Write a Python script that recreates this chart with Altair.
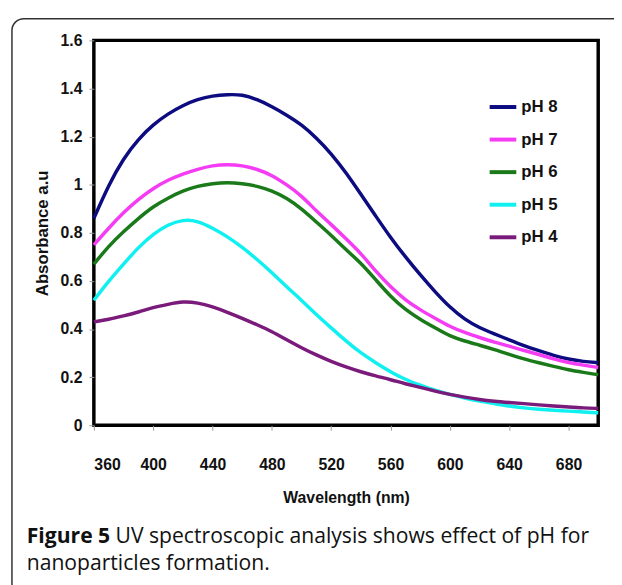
import altair as alt
import pandas as pd

wavelength = list(range(360, 701, 10))

ph8 = [0.86, 1.00, 1.11, 1.19, 1.25, 1.295, 1.33, 1.355, 1.37, 1.375, 1.375, 1.355, 1.325, 1.29, 1.25,
       1.195, 1.13, 1.05, 0.96, 0.87, 0.78, 0.70, 0.625, 0.555, 0.49, 0.44, 0.405, 0.38, 0.355, 0.33,
       0.31, 0.29, 0.275, 0.265, 0.26]
ph7 = [0.75, 0.82, 0.885, 0.94, 0.985, 1.02, 1.045, 1.065, 1.08, 1.085, 1.08, 1.065, 1.04, 1.00, 0.955,
       0.89, 0.835, 0.775, 0.715, 0.64, 0.575, 0.52, 0.48, 0.445, 0.41, 0.385, 0.365, 0.345, 0.33, 0.31,
       0.295, 0.275, 0.26, 0.25, 0.24]
ph6 = [0.67, 0.745, 0.805, 0.86, 0.91, 0.945, 0.975, 0.995, 1.005, 1.01, 1.005, 0.995, 0.975, 0.945, 0.90,
       0.845, 0.79, 0.73, 0.675, 0.605, 0.535, 0.48, 0.44, 0.405, 0.37, 0.35, 0.333, 0.315, 0.295, 0.275,
       0.26, 0.245, 0.23, 0.22, 0.21]
ph5 = [0.52, 0.60, 0.67, 0.74, 0.795, 0.835, 0.855, 0.85, 0.82, 0.785, 0.74, 0.69, 0.635, 0.575, 0.52,
       0.46, 0.405, 0.35, 0.30, 0.26, 0.222, 0.19, 0.167, 0.145, 0.128, 0.113, 0.10, 0.09, 0.08, 0.072,
       0.066, 0.062, 0.059, 0.055, 0.052]
ph4 = [0.43, 0.44, 0.455, 0.47, 0.49, 0.503, 0.515, 0.51, 0.493, 0.47, 0.445, 0.418, 0.39, 0.355, 0.322,
       0.292, 0.265, 0.242, 0.222, 0.205, 0.19, 0.172, 0.158, 0.142, 0.128, 0.117, 0.107, 0.10, 0.095, 0.09,
       0.085, 0.08, 0.076, 0.072, 0.07]

series_names = ["pH 8", "pH 7", "pH 6", "pH 5", "pH 4"]
series_colors = ["#0c0c80", "#f53cf5", "#1a7a1a", "#10f0f0", "#7a1a7a"]
x_ticks = [360, 400, 440, 480, 520, 560, 600, 640, 680]
y_ticks = [0, 0.2, 0.4, 0.6, 0.8, 1, 1.2, 1.4, 1.6]

caption_bold = "Figure 5"
caption_line1 = "UV spectroscopic analysis shows effect of pH for"
caption_line2 = "nanoparticles formation."

rows = []
for name, vals in zip(series_names, [ph8, ph7, ph6, ph5, ph4]):
    for w, v in zip(wavelength, vals):
        rows.append({"Wavelength": w, "Absorbance": v, "Series": name})
df = pd.DataFrame(rows)

AX_FONT = "Liberation Sans Narrow, Arial Narrow, Liberation Sans, Arial, sans-serif"
CAP_FONT = "Open Sans, Noto Sans, sans-serif"

W, H = 511, 390

lines = alt.Chart(df).mark_line(strokeWidth=3.5, interpolate="basis").encode(
    x=alt.X("Wavelength:Q", scale=alt.Scale(domain=[360, 700], nice=False, zero=False),
            axis=alt.Axis(values=x_ticks, title="Wavelength (nm)", grid=False, domain=False,
                          tickColor="#999", tickSize=5, labelPadding=27,
                          labelFont=AX_FONT, labelFontSize=16, labelFontWeight="bold", labelColor="#111",
                          titleFont=AX_FONT, titleFontSize=16, titleFontWeight="bold", titleColor="#111",
                          titlePadding=17)),
    y=alt.Y("Absorbance:Q", scale=alt.Scale(domain=[0, 1.6], nice=False),
            axis=alt.Axis(values=y_ticks, format="~g", title="Absorbance a.u", grid=False, domain=False,
                          tickColor="#999", tickSize=5, labelPadding=7,
                          labelFont=AX_FONT, labelFontSize=16, labelFontWeight="bold", labelColor="#111",
                          titleFont="Liberation Sans, Arial, sans-serif", titleFontSize=17,
                          titleFontWeight="bold", titleColor="#111", titlePadding=9)),
    color=alt.Color("Series:N", sort=series_names,
                    scale=alt.Scale(domain=series_names, range=series_colors),
                    legend=alt.Legend(orient="none", legendX=399, legendY=52, title=None,
                                      symbolType="stroke", symbolStrokeWidth=4, symbolSize=729,
                                      labelFont=AX_FONT, labelFontSize=17, labelFontWeight="bold",
                                      labelColor="#111", labelOffset=3, rowPadding=9)),
    order=alt.Order("Wavelength:Q"),
)

anchor = pd.DataFrame({"k": [0]})

border = alt.Chart(anchor).mark_rect(fill="white", fillOpacity=0, stroke="#333", strokeWidth=1.5,
                                     cornerRadius=12).encode(
    x=alt.value(-83), x2=alt.value(620), y=alt.value(-22), y2=alt.value(620))

CAP_SIZE = 21.4
cap1b = alt.Chart(anchor).mark_text(font=CAP_FONT, fontSize=CAP_SIZE, fontWeight="bold", align="left",
                                    baseline="alphabetic", color="#111").encode(
    x=alt.value(-68), y=alt.value(509), text=alt.value(caption_bold))
cap1 = alt.Chart(anchor).mark_text(font=CAP_FONT, fontSize=CAP_SIZE, align="left",
                                   baseline="alphabetic", color="#111").encode(
    x=alt.value(22), y=alt.value(509), text=alt.value(caption_line1))
cap2 = alt.Chart(anchor).mark_text(font=CAP_FONT, fontSize=CAP_SIZE, align="left",
                                   baseline="alphabetic", color="#111").encode(
    x=alt.value(-68), y=alt.value(537), text=alt.value(caption_line2))

chart = alt.layer(border, lines, cap1b, cap1, cap2).properties(
    width=W, height=H,
    background="white",
    autosize=alt.AutoSizeParams(type="none"),
    padding={"left": 87, "top": 29, "right": 16, "bottom": 158},
).configure_view(stroke="black", strokeWidth=3.5)

chart.save("out.html", embed_options={"renderer": "svg", "actions": False})
